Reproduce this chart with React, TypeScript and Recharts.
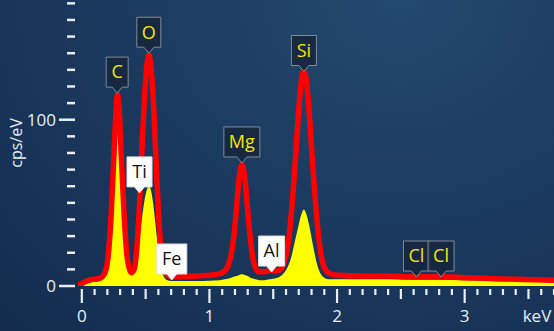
import React from 'react';
import { ComposedChart, Area, Line, Scatter, XAxis, YAxis, Label } from 'recharts';

// energy (keV) and the two spectra (cps/eV)
const energies = [
  -0.03, 0.0, 0.04, 0.08, 0.12, 0.16, 0.19, 0.21, 0.23, 0.25, 0.265, 0.28, 0.295, 0.31, 0.33, 0.35,
  0.37, 0.39, 0.41, 0.43, 0.45, 0.47, 0.49, 0.51, 0.525, 0.54, 0.56, 0.58, 0.6, 0.62, 0.64, 0.67,
  0.7, 0.8, 0.9, 1.0, 1.08, 1.12, 1.15, 1.17, 1.19, 1.21, 1.23, 1.254, 1.28, 1.3, 1.32, 1.34,
  1.36, 1.39, 1.43, 1.47, 1.51, 1.55, 1.58, 1.61, 1.64, 1.67, 1.7, 1.72, 1.74, 1.76, 1.78, 1.81,
  1.84, 1.87, 1.9, 1.94, 2.0, 2.2, 2.4, 2.6, 2.8, 3.0, 3.2, 3.4, 3.7,
];
const redCounts = [
  0.5, 1.5, 3, 4, 4.2, 5.5, 10, 21, 43, 76, 101, 115, 103, 77, 45, 21,
  11, 8, 10, 22, 46, 80, 112, 133, 139, 133, 112, 78, 45, 22, 11, 6.5,
  5.5, 5.5, 6, 6.5, 7.5, 9, 13, 19, 29, 45, 63, 73, 63, 45, 29, 17,
  11, 8.5, 8.5, 9.5, 9, 9.5, 13, 22, 42, 72, 106, 123, 129, 123, 106, 72,
  42, 21, 11, 7.5, 6.5, 6, 6, 5.5, 5.5, 5, 4.5, 4, 3.5,
];
const yellowCounts = [
  0, 0.8, 1.5, 2.2, 2.8, 4.5, 9, 20, 41, 73, 98, 112, 99, 73, 41, 18,
  9, 7, 9, 16, 28, 40, 51, 58, 60, 58, 49, 35, 21, 11, 6, 3.5,
  3, 3, 3, 3.2, 3.5, 4, 4.5, 5, 5.5, 6, 6.5, 7, 6.5, 6, 5, 4.5,
  4, 3.5, 3.5, 4, 4.5, 5.5, 7.5, 11, 17, 27, 37, 43, 46, 43, 37, 25,
  14, 7.5, 5, 4, 4, 4, 4, 3.8, 3.8, 3.5, 3.3, 3, 2.8,
];

// element markers
const markerNames = ['C', 'O', 'Ti', 'Fe', 'Mg', 'Al', 'Si', 'Cl', 'Cl'];
const markerEnergies = [0.277, 0.525, 0.452, 0.705, 1.254, 1.487, 1.74, 2.622, 2.815];
const markerHeights = [116, 140, 56, 3.6, 74, 8.4, 129, 5.4, 5.4];
const markerKinds = ['dark', 'dark', 'light', 'light', 'dark', 'light', 'dark', 'dark', 'dark'];

const xTicks = [
  0, 0.1, 0.2, 0.3, 0.4, 0.5, 0.6, 0.7, 0.8, 0.9, 1, 1.1, 1.2, 1.3, 1.4, 1.5, 1.6, 1.7, 1.8, 1.9,
  2, 2.1, 2.2, 2.3, 2.4, 2.5, 2.6, 2.7, 2.8, 2.9, 3, 3.1, 3.2, 3.3, 3.4, 3.5, 3.6, 3.7,
];
const xLabels = [0, 1, 2, 3];
const yTicks = [0, 10, 20, 30, 40, 50, 60, 70, 80, 90, 100, 110, 120, 130, 140, 150, 160, 170];
const yLabels = [0, 100];

const data = energies.map((e, i) => ({ e, red: redCounts[i], yellow: yellowCounts[i] }));
const markers = markerNames.map((name, i) => ({
  name,
  e: markerEnergies[i],
  v: markerHeights[i],
  kind: markerKinds[i],
}));

const FONT = '"Open Sans", "Noto Sans", sans-serif';
const TEXT = '#e9eef4';
const charW: Record<string, number> = { C: 11, O: 13, M: 15, g: 10, S: 10, i: 4, T: 10, F: 9, e: 10, A: 11, l: 4 };

const near = (a: number, b: number) => Math.abs(a - b) < 1e-6;

const XTick = (props: any) => {
  const { x, y, payload } = props;
  const v = payload.value;
  const major = near(v, Math.round(v));
  const half = !major && near(v * 2, Math.round(v * 2));
  const len = major ? 14 : half ? 10 : 6;
  const label = xLabels.find((l) => near(l, v));
  return (
    <g>
      <line x1={x} x2={x} y1={y + 3} y2={y + 3 + len} stroke={TEXT} strokeWidth={2.2} />
      {label !== undefined && (
        <text x={x} y={y + 30} dy="0.35em" textAnchor="middle" fill={TEXT} fontSize={17} fontFamily={FONT}>
          {label}
        </text>
      )}
    </g>
  );
};

const YTick = (props: any) => {
  const { x, y, payload } = props;
  const v = payload.value;
  const major = v % 100 === 0;
  const showLabel = yLabels.includes(v);
  return (
    <g>
      <line x1={x - (major ? 19 : 11)} x2={x - 3} y1={y} y2={y} stroke={TEXT} strokeWidth={2.5} />
      {showLabel && (
        <text x={x - 22} y={y} dy="0.35em" textAnchor="end" fill={TEXT} fontSize={17} fontFamily={FONT}>
          {v}
        </text>
      )}
    </g>
  );
};

const YTitle = (props: any) => {
  const vb = props.viewBox || { x: 0, y: 0, height: 286 };
  const cx = vb.x + 16;
  const cy = vb.y + vb.height / 2;
  return (
    <text
      x={cx}
      y={cy}
      dy="0.35em"
      transform={`rotate(-90 ${cx} ${cy})`}
      textAnchor="middle"
      fill={TEXT}
      fontSize={16}
      fontFamily={FONT}
    >
      cps/eV
    </text>
  );
};

const XUnit = (props: any) => {
  const vb = props.viewBox || { x: 78, y: 286, width: 476 };
  return (
    <text
      x={vb.x + vb.width - 17}
      y={vb.y + 30}
      dy="0.35em"
      textAnchor="middle"
      fill={TEXT}
      fontSize={17}
      fontFamily={FONT}
    >
      keV
    </text>
  );
};

const Callout = (props: any) => {
  const { cx, cy, payload } = props;
  if (cx == null || cy == null) return null;
  const name: string = payload.name;
  const dark = payload.kind === 'dark';
  const tw = name.split('').reduce((s, c) => s + (charW[c] || 10), 0);
  const w = tw + 11;
  const h = 30;
  const p = 6;
  const top = cy - p - h;
  const left = cx - w / 2;
  const d = `M${left},${top} H${left + w} V${top + h} H${cx + 5} L${cx},${cy} L${cx - 5},${top + h} H${left} Z`;
  return (
    <g>
      <path
        d={d}
        fill={dark ? 'rgba(22,38,60,0.85)' : '#ffffff'}
        stroke={dark ? '#7f8c9a' : '#e0e0e0'}
        strokeWidth={1}
      />
      <text
        x={cx}
        y={top + h / 2}
        dy="0.35em"
        textAnchor="middle"
        fill={dark ? '#f5e800' : '#111111'}
        fontSize={18}
        fontFamily={FONT}
      >
        {name}
      </text>
    </g>
  );
};

export default function App() {
  return (
    <div
      style={{
        position: 'absolute',
        left: 0,
        top: 0,
        width: 554,
        height: 331,
        background: 'radial-gradient(ellipse at 72% 0%, #24496e 0%, #1c3b60 45%, #132c4e 100%)',
      }}
    >
      <ComposedChart width={554} height={331} data={data} margin={{ top: 0, right: 0, bottom: 0, left: 0 }}>
        <XAxis
          dataKey="e"
          type="number"
          domain={[-0.03, 3.7]}
          ticks={xTicks}
          interval={0}
          height={45}
          axisLine={false}
          tickLine={false}
          tickSize={0}
          tickMargin={0}
          tick={<XTick />}
          allowDataOverflow
        >
          <Label content={<XUnit />} />
        </XAxis>
        <YAxis
          type="number"
          domain={[0, 172]}
          ticks={yTicks}
          interval={0}
          width={78}
          axisLine={false}
          tickLine={false}
          tickSize={0}
          tickMargin={0}
          tick={<YTick />}
          allowDataOverflow
        >
          <Label content={<YTitle />} />
        </YAxis>
        <Area
          type="monotone"
          dataKey="yellow"
          fill="#ffff00"
          fillOpacity={1}
          stroke="none"
          isAnimationActive={false}
        />
        <Line
          type="monotone"
          dataKey="red"
          stroke="#ff0000"
          strokeWidth={5.5}
          dot={false}
          isAnimationActive={false}
        />
        <Scatter data={markers} dataKey="v" shape={<Callout />} isAnimationActive={false} />
      </ComposedChart>
    </div>
  );
}
